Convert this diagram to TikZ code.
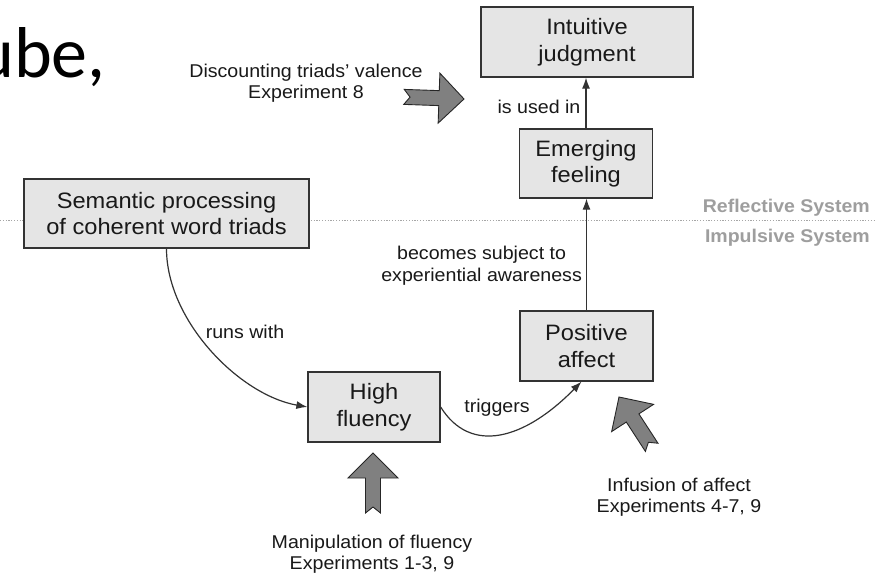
\documentclass[tikz,border=0pt]{standalone}
\usepackage{fontspec}
\setmainfont{Liberation Sans}
\newfontfamily\lblfont[FakeStretch=1.06]{Liberation Sans}
\newfontfamily\slidefont{Carlito}
\usetikzlibrary{arrows.meta,calc}

\begin{document}
\begin{tikzpicture}[x=1pt,y=-1pt,
  box/.style={draw=black!80,fill=black!10,line width=1.3pt,inner sep=0pt,align=center,
    text=black!90,font=\lblfont\fontsize{22.3}{26.5}\selectfont},
  lbl/.style={inner sep=0pt,align=center,text=black!90,font=\lblfont\fontsize{18.5}{21.5}\selectfont},
  sys/.style={inner sep=0pt,text=black!38,font=\lblfont\bfseries\fontsize{18.4}{21}\selectfont},
  conn/.style={draw=black!80,line width=1.2pt,-{Latex[length=11pt,width=8pt]}},
  blockarrow/.pic={\draw[fill=black!50,draw=black!85,line width=0.9pt,line join=miter]
    (0,0) -- (-25,-25) -- (-25,-7.5) -- (-60,-7.5) -- (-54,0) -- (-60,7.5)
    -- (-25,7.5) -- (-25,25) -- cycle;}]

% page frame
\fill[white] (0,0) rectangle (887,577);
\useasboundingbox (0,0) rectangle (887,577);
\clip (0,0) rectangle (887,577);

% slide title fragment
\node[anchor=base east,inner sep=0pt,font=\slidefont\fontsize{72}{80}\selectfont] (slide) at (106,78) {ube,};

% border between the two systems
\draw[black!35,line width=1pt,dash pattern=on 1.2pt off 1.6pt] (0,221) -- (875,221);
\node[sys,anchor=base east] (refl) at (870,213) {Reflective System};
\node[sys,anchor=base east] (impu) at (870,243) {Impulsive System};

% process boxes
\node[box,minimum width=212pt,minimum height=70pt] (ij) at (587,42) {Intuitive\\judgment};
\node[box,minimum width=133pt,minimum height=69pt] (ef) at (586,163.5) {Emerging\\feeling};
\node[box,minimum width=133pt,minimum height=70pt] (pa) at (586.5,346) {Positive\\affect};
\node[box,minimum width=132pt,minimum height=70pt] (hf) at (374,407) {High\\fluency};
\node[box,minimum width=285pt,minimum height=69pt] (sp) at (166.5,213.5) {Semantic processing\\of coherent word triads};

% connectors
\draw[conn] (ef.north) -- (ef.north |- ij.south)
  node[lbl,pos=0.42,left=5pt] (usedin) {is used in};
\draw[conn] (pa.north) -- (pa.north |- ef.south)
  node[lbl,pos=0.4,left=4pt] (becomes) {becomes subject to\\experiential awareness};
\draw[conn] (sp.south) .. controls ($(sp.south)+(0,72)$) and ($(hf.west)+(-68,-12)$) .. (hf.west);
\node[lbl] (runs) at (245,332) {runs with};
\draw[conn] (hf.east) .. controls ($(hf.east)+(30,48)$) and ($(pa.south)+(-62,58)$) .. ([xshift=-5pt]pa.south);
\node[lbl] (trig) at (497,408) {triggers};

% experimental manipulations
\pic[rotate=-2] at (464,99) {blockarrow};
\node[lbl] (disc) at (306,83) {Discounting triads’ valence\\Experiment 8};
\pic[rotate=90] at (373,453) {blockarrow};
\node[lbl] (manip) at (372,554) {Manipulation of fluency\\Experiments 1-3, 9};
\pic[rotate=123] at (619,397) {blockarrow};
\node[lbl] (infu) at (679,497) {Infusion of affect\\Experiments 4-7, 9};
\end{tikzpicture}
\end{document}
